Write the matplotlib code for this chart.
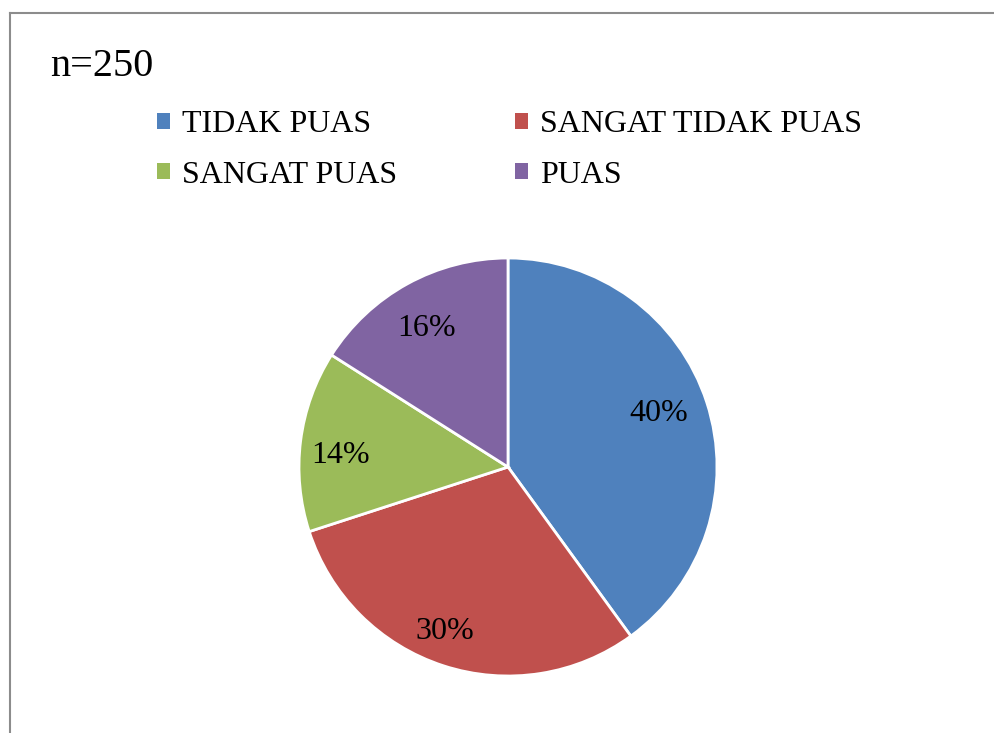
import matplotlib.pyplot as plt
from matplotlib.patches import Patch
from matplotlib.lines import Line2D

labels = ['TIDAK PUAS', 'SANGAT TIDAK PUAS', 'SANGAT PUAS', 'PUAS']
values = [40, 30, 14, 16]
colors = ['#4F81BD', '#C0504D', '#9BBB59', '#8064A2']
# label positions (in pie radius units), as placed in the original
label_pos = [(0.72, 0.255), (-0.30, -0.785), (-0.80, 0.055), (-0.39, 0.665)]

plt.rcParams['font.family'] = ['Liberation Serif', 'DejaVu Serif']

W, H = 995, 733
fig = plt.figure(figsize=(W / 100, H / 100), dpi=100)

# chart border (left and top edges visible)
fig.add_artist(Line2D([10 / W, 10 / W], [0, 1 - 13 / H], color='#8c8c8c', lw=1.5))
fig.add_artist(Line2D([10 / W, 1], [1 - 13 / H, 1 - 13 / H], color='#8c8c8c', lw=1.5))

cx, cy, r = 508, 467, 209
ax = fig.add_axes([(cx - r) / W, (H - cy - r) / H, 2 * r / W, 2 * r / H])
wedges, _ = ax.pie(values, colors=colors, startangle=90, counterclock=False,
                   wedgeprops=dict(edgecolor='white', linewidth=2))
ax.set_xlim(-1, 1)
ax.set_ylim(-1, 1)
ax.set_aspect('equal')
ax.axis('off')

for v, (x, y) in zip(values, label_pos):
    ax.text(x, y, '{}%'.format(v), ha='center', va='center', fontsize=23, color='black')

fig.text(50 / W, 1 - 67 / H, 'n=250', fontsize=29, ha='left', va='center')

# legend: column-major order so rows read TIDAK PUAS / SANGAT TIDAK PUAS, SANGAT PUAS / PUAS
order = [0, 2, 1, 3]
handles = [Patch(facecolor=colors[i], edgecolor='none') for i in order]
fig.legend(handles, [labels[i] for i in order], ncol=2, loc='upper left',
           bbox_to_anchor=(157 / W, 1 - 110 / H), frameon=False, fontsize=23,
           handlelength=0.4, handleheight=0.4, handletextpad=0.38,
           columnspacing=3.7, labelspacing=0.68, borderpad=0, borderaxespad=0)

fig.savefig('out.png', dpi=100, facecolor='white')
